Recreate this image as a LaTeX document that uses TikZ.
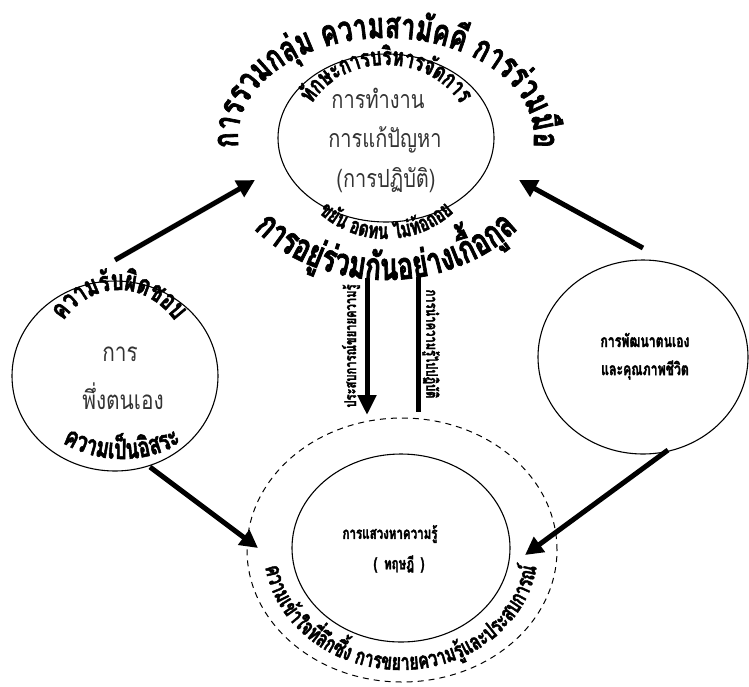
\documentclass[tikz,border=0pt]{standalone}
\usepackage{fontspec}
\usetikzlibrary{shapes.geometric,arrows.meta,decorations.text}
\newfontfamily\thairm[Script=Thai,FakeStretch=0.8]{Loma}
\newfontfamily\thaibd[Script=Thai,FakeStretch=0.7,FakeBold=1.8]{Loma}
\newcommand\fsz[1]{\fontsize{#1}{#1}\selectfont}
\tikzset{
  circ/.style={draw, ellipse, line width=1.1pt, inner sep=0pt},
  bigarrow/.style={line width=5pt, -{Triangle[length=18pt,width=18pt]}},
  plainline/.style={line width=5pt},
  reg/.style={font=\thairm\fsz{#1}, text=black!80, inner sep=0pt},
  bld/.style={font=\thaibd\bfseries\fsz{#1}, inner sep=0pt},
  arctext/.style={decorate, decoration={text along path, text align=center, text={#1}}},
}
\begin{document}
\begin{tikzpicture}[x=1pt,y=1pt]
\useasboundingbox (0,0) rectangle (749,-686);
% circles
\node[circ, minimum width=216pt, minimum height=168pt] (top) at (386,-138) {};
\node[circ, minimum width=206pt, minimum height=190pt] (left) at (115,-376) {};
\node[circ, minimum width=210pt, minimum height=194pt] (right) at (643,-357) {};
\node[circ, dashed, dash pattern=on 6pt off 5pt, line width=1pt, minimum width=310pt, minimum height=264pt] (outer) at (402,-550) {};
\node[circ, minimum width=218pt, minimum height=188pt] (theory) at (401,-548) {};
% top circle texts
\node[reg=25] (t1) at (378,-98) {การทำงาน};
\node[reg=25] (t2) at (385,-140) {การแก้ปัญหา};
\node[reg=25] (t3) at (386,-180) {(การปฏิบัติ)};
\path[arctext={|\thaibd\bfseries\fsz{36}|การรวมก{ลุ่}ม ความสา{มั}ค{คี} การ{ร่}วม{มื}อ}]
  (386,-138) ++(195:148 and 100) arc[start angle=195, end angle=-15, x radius=148, y radius=100];
\path[arctext={|\thaibd\bfseries\fsz{25}|{ทั}กษะการบ{ริ}หาร{จั}ดการ}]
  (386,-138) ++(178:84 and 73) arc[start angle=178, end angle=2, x radius=84, y radius=73];
\path[arctext={|\thaibd\bfseries\fsz{22.5}|ข{ยั}น อดทน ไ{ม่}{ท้}อถอย}]
  (386,-138) ++(200:100 and 101) arc[start angle=200, end angle=340, x radius=100, y radius=101];
\path[arctext={|\thaibd\bfseries\fsz{38}|การอ{ยู่}{ร่}วม{กั}นอ{ย่}างเ{กื้}อ{กู}ล}]
  (386,-132) ++(185:175 and 148) arc[start angle=185, end angle=355, x radius=175, y radius=148];
% left circle texts
\node[reg=26] (l1) at (120,-354) {การ};
\node[reg=26] (l2) at (123,-396) {พึ่งตนเอง};
\path[arctext={|\thaibd\bfseries\fsz{28}|ความ{รั}บ{ผิ}ดชอบ}]
  (119,-386) ++(178:76 and 96) arc[start angle=178, end angle=2, x radius=76, y radius=96];
\path[arctext={|\thaibd\bfseries\fsz{28}|ความเ{ป็}น{อิ}สระ}]
  (122,-376) ++(185:100 and 83) arc[start angle=185, end angle=355, x radius=100, y radius=83];
% right circle
\node[bld=17.5] (r1) at (645,-340) {การพัฒนาตนเอง};
\node[bld=17.5] (r2) at (645,-370) {และคุณภาพชีวิต};
% bottom circle
\node[bld=16.5] (b1) at (390,-534) {การแสวงหาความรู้};
\node[bld=16.5] (b2) at (399,-564) {(\, ทฤษฎี \,)};
\path[arctext={|\thaibd\bfseries\fsz{23}|ความเ{ข้}าใจ{ที่}{ลึ}ก{ซึ้}ง การขยายความ{รู้}และประสบการ{ณ์}}]
  (401,-550) ++(170:137 and 120) arc[start angle=170, end angle=370, x radius=137, y radius=120];
% vertical links
\coordinate (va1) at (367,-278);
\coordinate (va2) at (367,-415);
\coordinate (vb1) at (418,-277);
\coordinate (vb2) at (418,-412);
\draw[line width=5pt, -{Triangle[length=20pt,width=18pt]}] (va1) -- (va2);
\draw[plainline] (vb1) -- (vb2);
\node[bld=16, rotate=90] (v1) at (351,-346) {ประสบการณ์ขยายความรู้};
\node[bld=16, rotate=-90] (v2) at (431,-344) {การนำความรู้ไปปฏิบัติ};
% arrows
\coordinate (a1s) at (115,-260);
\coordinate (a1e) at (255,-180);
\coordinate (a2s) at (643,-248);
\coordinate (a2e) at (519,-180);
\coordinate (a3s) at (150,-467);
\coordinate (a3e) at (258,-548);
\coordinate (a4s) at (668,-450);
\coordinate (a4e) at (525,-555);
\draw[bigarrow] (a1s) -- (a1e);
\draw[bigarrow] (a2s) -- (a2e);
\draw[bigarrow] (a3s) -- (a3e);
\draw[bigarrow] (a4s) -- (a4e);
\end{tikzpicture}
\end{document}
